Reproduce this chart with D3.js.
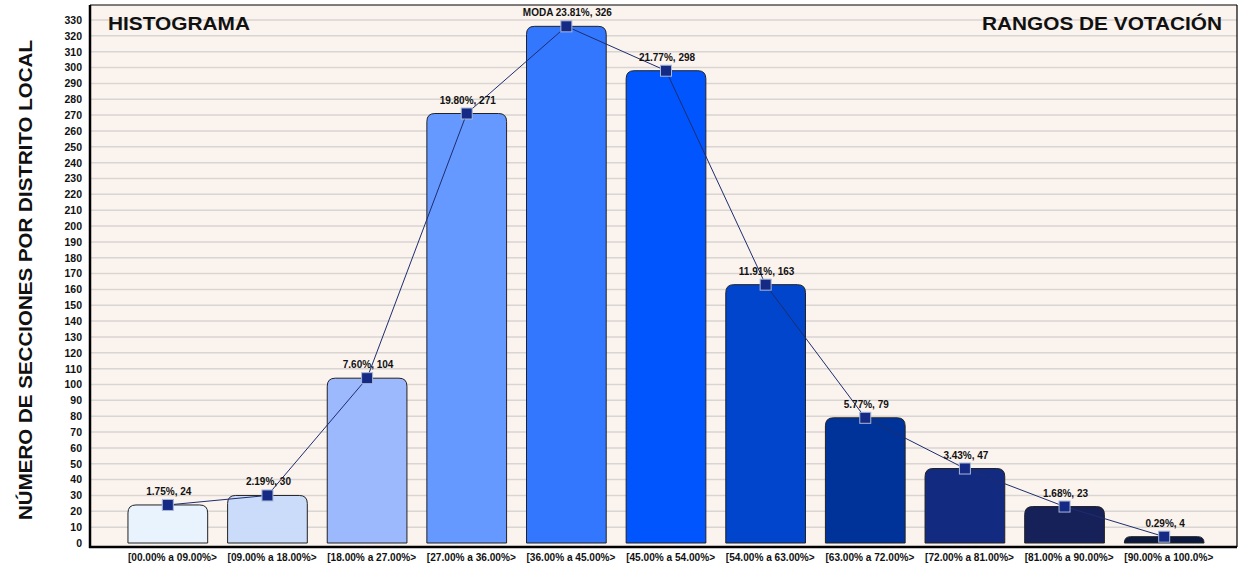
<!DOCTYPE html>
<html><head><meta charset="utf-8">
<script src="https://cdn.jsdelivr.net/npm/d3@7"></script>
<style>body{margin:0;background:#fff}svg{display:block}text{font-family:Arial,"Liberation Sans",sans-serif}</style>
</head><body><svg id="c" width="1247" height="567"></svg>
<script>
const categories = ["[00.00% a 09.00%>","[09.00% a 18.00%>","[18.00% a 27.00%>","[27.00% a 36.00%>","[36.00% a 45.00%>","[45.00% a 54.00%>","[54.00% a 63.00%>","[63.00% a 72.00%>","[72.00% a 81.00%>","[81.00% a 90.00%>","[90.00% a 100.0%>"];
const counts = [24,30,104,271,326,298,163,79,47,23,4];
const percents = ["1.75%","2.19%","7.60%","19.80%","23.81%","21.77%","11.91%","5.77%","3.43%","1.68%","0.29%"];
const labelPrefix = ["","","","","MODA ","","","","","",""];
const barColors = ["#E8F3FD","#CADCF9","#9DB9FD","#6699FF","#3377FF","#0055FF","#0045CC","#003399","#122A80","#16215A","#0C1A40"];
const yTicks = d3.range(0, 331, 10);

const svg = d3.select("#c");
const frame = {l:90, t:5, r:1237, b:547};
const x = d3.scaleBand().domain(categories).range([118,1214]).paddingInner(0.2).paddingOuter(0.1);
const y = d3.scaleLinear().domain([0,330]).range([543,20]);

svg.append("rect").attr("x",frame.l).attr("y",frame.t).attr("width",frame.r-frame.l).attr("height",frame.b-frame.t).attr("fill","#FBF3EE");

// gridlines
svg.append("g").selectAll("line").data(yTicks.filter(d=>d>0)).join("line")
  .attr("x1",frame.l).attr("x2",frame.r).attr("y1",d=>y(d)).attr("y2",d=>y(d))
  .attr("stroke","#D9D5D2").attr("stroke-width",1.5);

// y axis labels
const yAxis = d3.axisLeft(y).tickValues(yTicks).tickSize(0).tickPadding(0);
const ga = svg.append("g").attr("transform","translate(82,0)").call(yAxis);
ga.select(".domain").remove();
ga.selectAll("text").attr("font-size",10.5).attr("font-weight","bold").attr("fill","#111");

// x axis labels (start-aligned at bar left edge)
const xAxis = d3.axisBottom(x).tickSize(0).tickPadding(0).offset(0);
const gx = svg.append("g").attr("transform","translate(0,554)").call(xAxis);
gx.select(".domain").remove();
gx.selectAll(".tick").attr("transform", d => `translate(${x(d)},0)`);
gx.selectAll("text").attr("font-size",10.1).attr("font-weight","bold").attr("fill","#111")
  .attr("dy","0.71em").attr("text-anchor","start").attr("x",0);

// bars with rounded top corners
function barPath(x0,w,yt,yb,r){
  r=Math.min(r,(yb-yt),w/2);
  return `M${x0},${yb}V${yt+r}Q${x0},${yt} ${x0+r},${yt}H${x0+w-r}Q${x0+w},${yt} ${x0+w},${yt+r}V${yb}Z`;
}
svg.append("g").selectAll("path").data(counts).join("path")
  .attr("d",(d,i)=>barPath(x(categories[i]),x.bandwidth(),y(d),y(0),8))
  .attr("fill",(d,i)=>barColors[i]).attr("stroke","#222").attr("stroke-width",1);

// frame lines
svg.append("line").attr("x1",frame.l).attr("x2",frame.r).attr("y1",frame.t).attr("y2",frame.t).attr("stroke","#000").attr("stroke-width",1.2);
svg.append("line").attr("x1",frame.r).attr("x2",frame.r).attr("y1",frame.t).attr("y2",frame.b).attr("stroke","#000").attr("stroke-width",1.2);
svg.append("line").attr("x1",frame.l).attr("x2",frame.l).attr("y1",frame.t).attr("y2",frame.b+1).attr("stroke","#000").attr("stroke-width",2.5);
svg.append("line").attr("x1",frame.l-1).attr("x2",frame.r).attr("y1",frame.b).attr("y2",frame.b).attr("stroke","#000").attr("stroke-width",2.5);

// line
const cx = i => x(categories[i]) + x.bandwidth()/2;
svg.append("path").datum(counts)
  .attr("d", d3.line().x((d,i)=>cx(i)).y(d=>y(d)))
  .attr("fill","none").attr("stroke","#1E2D6E").attr("stroke-width",1);
svg.append("g").selectAll("rect").data(counts).join("rect")
  .attr("x",(d,i)=>cx(i)-5.5).attr("y",d=>y(d)-5.5).attr("width",11).attr("height",11)
  .attr("fill","#142A85").attr("stroke","#A8B8D8").attr("stroke-width",1);

// value labels
svg.append("g").selectAll("text").data(counts).join("text")
  .attr("x",(d,i)=>cx(i)+1).attr("y",d=>y(d)-10)
  .attr("text-anchor","middle").attr("font-size",10).attr("font-weight","bold").attr("fill","#111")
  .text((d,i)=>`${labelPrefix[i]}${percents[i]}, ${d}`);

// titles
svg.append("text").attr("x",108).attr("y",30).attr("font-size",19).attr("font-weight","bold").attr("fill","#111")
  .attr("textLength",142).attr("lengthAdjust","spacingAndGlyphs").text("HISTOGRAMA");
svg.append("text").attr("x",982).attr("y",30).attr("font-size",19).attr("font-weight","bold").attr("fill","#111")
  .attr("textLength",240).attr("lengthAdjust","spacingAndGlyphs").text("RANGOS DE VOTACIÓN");
svg.append("text").attr("transform","translate(32,520) rotate(-90)")
  .attr("font-size",18).attr("font-weight","bold").attr("fill","#111")
  .attr("textLength",480).attr("lengthAdjust","spacingAndGlyphs").text("NÚMERO DE SECCIONES POR DISTRITO LOCAL");
</script></body></html>
